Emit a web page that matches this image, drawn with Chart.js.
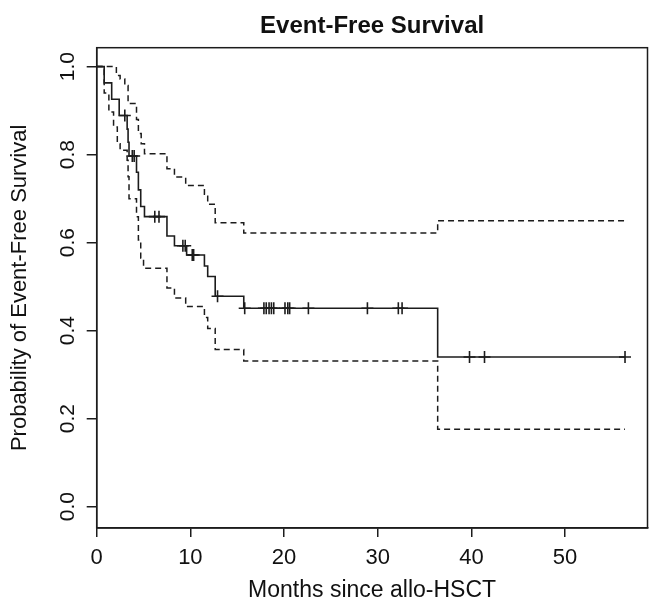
<!DOCTYPE html>
<html>
<head>
<meta charset="utf-8">
<script src="https://cdn.jsdelivr.net/npm/chart.js@4"></script>
<style>
  html, body { margin: 0; padding: 0; background: #fff; }
  canvas { display: block; }
</style>
</head>
<body>
<canvas id="chartSobrevida" width="649" height="604"></canvas>
<script>
// Kaplan-Meier estimate (step values)
const survTimes = [0, 0.8, 1.6, 2.4, 3.25, 3.35, 3.45, 4.25, 4.45, 4.7, 5.1, 7.5, 8.3, 9.6, 11.5, 11.85, 12.65, 15.7, 36.4, 56.4];
const survProb = [1.0, 0.963, 0.926, 0.889, 0.858, 0.828, 0.797, 0.76, 0.72, 0.682, 0.659, 0.615, 0.593, 0.572, 0.547, 0.523, 0.478, 0.451, 0.340, 0.340];

// upper confidence limit
const upperTimes = [0, 2.1, 2.5, 3.0, 3.35, 4.25, 4.45, 4.75, 5.1, 7.5, 8.3, 9.5, 11.5, 11.85, 12.65, 15.7, 36.4, 56.4];
const upperProb = [1.0, 0.98, 0.972, 0.957, 0.916, 0.88, 0.848, 0.825, 0.802, 0.768, 0.749, 0.73, 0.71, 0.687, 0.645, 0.622, 0.650, 0.650];

// lower confidence limit
const lowerTimes = [0, 0.8, 1.3, 1.8, 2.2, 2.5, 3.25, 3.35, 3.45, 4.25, 4.45, 4.7, 5.0, 7.5, 8.3, 9.5, 11.5, 11.85, 12.65, 15.7, 36.4, 56.4];
const lowerProb = [1.0, 0.94, 0.897, 0.863, 0.825, 0.81, 0.787, 0.75, 0.70, 0.659, 0.606, 0.565, 0.542, 0.497, 0.474, 0.455, 0.43, 0.405, 0.357, 0.331, 0.176, 0.176];

// censored observations (months)
const censorTimes = [3.0, 3.8, 4.0, 6.2, 6.65, 9.2, 9.45, 10.2, 10.35, 12.9, 15.8, 17.85, 18.1, 18.4, 18.65, 18.9, 20.1, 20.4, 20.6, 22.6, 28.9, 32.2, 32.6, 39.8, 41.4, 56.4];

const xTicks = [0, 10, 20, 30, 40, 50];
const yTicks = [0, 0.2, 0.4, 0.6, 0.8, 1.0];

const tituloGrafico = 'Event-Free Survival';
const tituloX = 'Months since allo-HSCT';
const tituloY = 'Probability of Event-Free Survival';

function pontos(tempos, valores) {
    return tempos.map((t, i) => ({ x: t, y: valores[i] }));
}

function valorNoTempo(t) {
    let v = survProb[0];
    survTimes.forEach((tt, i) => {
        if (tt <= t) v = survProb[i];
    });
    return v;
}

const cor = '#1c1c1c';
const fonte = 'Liberation Sans, Arial, sans-serif';

// box around plot + main title
const caixaPlugin = {
    id: 'caixa',
    afterDraw(chart) {
        const { ctx, chartArea } = chart;
        ctx.save();
        ctx.strokeStyle = cor;
        ctx.lineWidth = 1.5;
        ctx.strokeRect(chartArea.left, chartArea.top, chartArea.right - chartArea.left, chartArea.bottom - chartArea.top);
        ctx.fillStyle = '#111';
        ctx.font = 'bold 24px ' + fonte;
        ctx.textAlign = 'center';
        ctx.textBaseline = 'alphabetic';
        ctx.fillText(tituloGrafico, (chartArea.left + chartArea.right) / 2, 32.5);
        ctx.restore();
    }
};

const ctx = document.getElementById('chartSobrevida');

new Chart(ctx, {
    type: 'line',
    data: {
        datasets: [{
            label: 'KM',
            data: pontos(survTimes, survProb),
            stepped: true,
            borderColor: cor,
            borderWidth: 1.6,
            pointRadius: 0,
            fill: false
        }, {
            label: 'Upper 95% CI',
            data: pontos(upperTimes, upperProb),
            stepped: true,
            borderColor: cor,
            borderWidth: 1.5,
            borderDash: [6, 4],
            pointRadius: 0,
            fill: false
        }, {
            label: 'Lower 95% CI',
            data: pontos(lowerTimes, lowerProb),
            stepped: true,
            borderColor: cor,
            borderWidth: 1.5,
            borderDash: [6, 4],
            pointRadius: 0,
            fill: false
        }, {
            label: 'Censored',
            data: censorTimes.map(t => ({ x: t, y: valorNoTempo(t) })),
            showLine: false,
            pointStyle: 'cross',
            pointRadius: 6,
            pointHoverRadius: 6,
            pointBorderWidth: 1.6,
            pointBorderColor: cor,
            pointBackgroundColor: cor
        }]
    },
    options: {
        responsive: false,
        animation: false,
        devicePixelRatio: 1,
        layout: {
            autoPadding: false,
            padding: { top: 47.7, right: 1.5, left: 0, bottom: 0 }
        },
        plugins: {
            legend: { display: false },
            tooltip: { enabled: false },
            title: { display: false }
        },
        scales: {
            x: {
                type: 'linear',
                min: 0,
                max: 58.8,
                afterBuildTicks: (scale) => { scale.ticks = xTicks.map(v => ({ value: v })); },
                afterFit: (scale) => {
                    scale.height = 76;
                    scale.paddingLeft = 0;
                    scale.paddingRight = 0;
                },
                grid: { display: true, drawOnChartArea: false, drawTicks: true, tickLength: 9, color: cor, lineWidth: 1.5 },
                border: { display: true, color: cor, width: 1.5 },
                ticks: {
                    color: '#111',
                    font: { family: fonte, size: 22 },
                    padding: 8,
                    maxRotation: 0,
                    callback: (v) => String(v)
                },
                title: {
                    display: true,
                    text: tituloX,
                    color: '#111',
                    font: { family: fonte, size: 23 },
                    padding: { top: 0, bottom: 0 }
                }
            },
            y: {
                type: 'linear',
                min: -0.0485,
                max: 1.043,
                afterBuildTicks: (scale) => { scale.ticks = yTicks.map(v => ({ value: v })); },
                afterFit: (scale) => {
                    scale.width = 96.7;
                    scale.paddingTop = 0;
                    scale.paddingBottom = 0;
                },
                grid: { display: true, drawOnChartArea: false, drawTicks: true, tickLength: 10, color: cor, lineWidth: 1.5 },
                border: { display: true, color: cor, width: 1.5 },
                ticks: {
                    color: '#111',
                    font: { family: fonte, size: 21 },
                    padding: 4,
                    minRotation: 90,
                    maxRotation: 90,
                    crossAlign: 'center',
                    callback: (v) => v.toFixed(1)
                },
                title: {
                    display: true,
                    text: tituloY,
                    color: '#111',
                    font: { family: fonte, size: 22 },
                    padding: { top: 7, bottom: 0 }
                }
            }
        }
    },
    plugins: [caixaPlugin]
});
</script>
</body>
</html>
